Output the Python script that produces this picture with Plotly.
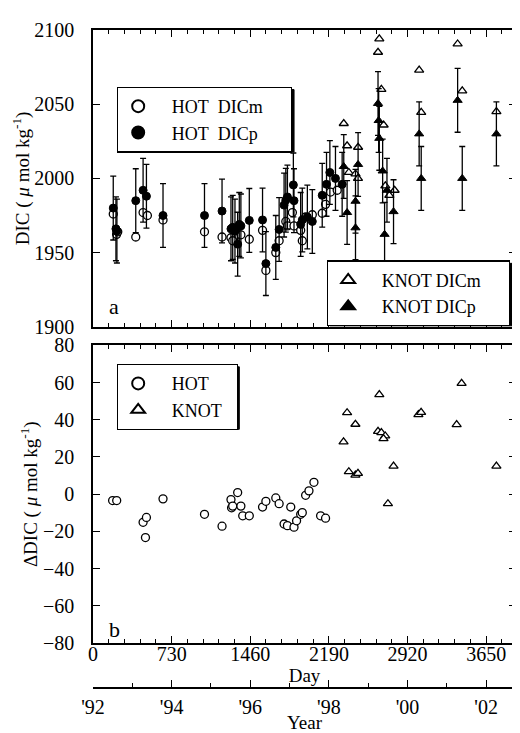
import plotly.graph_objects as go

# ---- panel a: DIC at HOT and KNOT (day since 1 Jan 1992, umol/kg)
hot_m_day = [188, 219, 230, 397, 465, 505, 650, 1035, 1198, 1281, 1297, 1352, 1373,
             1451, 1574, 1605, 1697, 1728, 1790, 1805, 1851, 1866, 1928, 1943, 1974,
             2036, 2128, 2159, 2205, 2267]
hot_m_dic = [1976, 1962.3, 1964, 1960.5, 1977, 1975, 1972, 1964, 1960.5, 1960, 1958,
             1962, 1962, 1959, 1965, 1938, 1950, 1958, 1971, 1968, 1977, 1968, 1965,
             1958, 1974, 1975.5, 1976.5, 1982.5, 1990.8, 1992]
hot_p_day = [188, 213, 222, 397, 465, 496, 650, 1035, 1198, 1281, 1297, 1318, 1343,
             1358, 1373, 1451, 1574, 1605, 1697, 1728, 1774, 1790, 1805, 1860, 1866,
             1928, 1943, 1990, 2036, 2128, 2168, 2199, 2251, 2313]
hot_p_dic = [1980, 1966, 1964.5, 1985, 1992, 1988, 1975, 1975, 1978, 1966, 1967,
             1964.5, 1955.7, 1969, 1968, 1971.7, 1972, 1942.6, 1953.5, 1965.6, 1982,
             1985.3, 1987.5, 1995.6, 1985, 1969, 1972, 1974, 1971, 1988.6, 1996, 2004,
             2000, 1996]
knot_m_day = [2328, 2359, 2461, 2375, 2437, 2460, 2658, 2646, 2677, 2698, 2714, 2751,
              2800, 3028, 3047, 3385, 3428, 3745]
knot_m_dic = [2037, 2022, 2021, 2004, 2003, 2000, 2094, 2085, 2060, 2036, 1995, 1988.6,
              1992, 2073, 2044.5, 2090.6, 2059, 2045]
knot_p_day = [2328, 2359, 2437, 2437, 2461, 2646, 2652, 2658, 2689, 2729, 2707, 2790,
              3028, 3047, 3385, 3428, 3745]
knot_p_dic = [2008, 1977, 1984.6, 1966.7, 2009.4, 2050.5, 2039, 2027, 2005, 1992,
              1962.3, 1977.6, 2030, 2000, 2052.6, 2000, 2030]
dicp_err = 21.5

# ---- panel b: DIC difference
hot_d_day = [182, 220, 465, 487, 496, 650, 1035, 1198, 1281, 1287, 1297, 1343, 1373,
             1390, 1451, 1574, 1605, 1697, 1728, 1774, 1805, 1836, 1866, 1890, 1928,
             1943, 1974, 2005, 2051, 2113, 2159]
hot_d_val = [-3.4, -3.4, -15.1, -23.3, -12.5, -2.5, -10.8, -17.2, -2.9, -7.3, -6.4, 0.9,
             -6.4, -11.6, -11.6, -6.9, -3.8, -2.0, -5.1, -16.0, -16.9, -6.9, -17.7,
             -14.3, -10.8, -9.9, -0.6, 1.8, 6.4, -11.6, -12.9]
knot_d_day = [2326, 2359, 2436, 2375, 2436, 2460, 2658, 2646, 2677, 2713, 2697, 2738,
              2790, 3021, 3046, 3376, 3422, 3745]
knot_d_val = [28.1, 43.8, 37.6, 12.1, 10.3, 11.2, 53.5, 33.8, 33.1, 31.3, 29.9, -5.1,
              15.1, 42.8, 44.0, 37.4, 59.6, 15.1]

day_ticks = [0, 730, 1460, 2190, 2920, 3650]
year_ticks = [92, 94, 96, 98, 100, 102]
year_labels = ["'92", "'94", "'96", "'98", "'00", "'02"]

DAY_MAX = 3927
FONT = "Liberation Serif, Times New Roman, serif"
NB = "\u00a0"

# page geometry (the photographed page is offset and slightly squeezed)
W, H = 512, 725
MT, MB = 22, 19
SY, OY = 0.984, 2.3


def px_x(p):
    # reference pixel column -> paper x (plot area spans 93..518)
    return (p - 93) / 425.0


def px_y(p):
    # reference pixel row -> paper y
    fig_y = (p - OY) / SY
    return (H - MB - fig_y) / (H - MB - MT)


def entry(text, lead, trail):
    # pad legend labels so the framed boxes get the reference width
    return NB * lead + text + NB * trail


fig = go.Figure()

hollow = dict(color="white", size=8, line=dict(color="black", width=1.3))
solid = dict(color="black", size=8, line=dict(color="black", width=1))
ebar = dict(type="constant", value=dicp_err, color="black", thickness=1.3, width=3)

fig.add_trace(go.Scatter(x=hot_m_day, y=hot_m_dic, mode="markers",
                         name=entry("HOT" + NB * 2 + "DICm", 3, 5),
                         marker=dict(symbol="circle", **hollow), legend="legend",
                         xaxis="x", yaxis="y"))
fig.add_trace(go.Scatter(x=hot_p_day, y=hot_p_dic, mode="markers",
                         name=entry("HOT" + NB * 2 + "DICp", 3, 5),
                         marker=dict(symbol="circle", **solid), error_y=ebar,
                         legend="legend", xaxis="x", yaxis="y"))
fig.add_trace(go.Scatter(x=knot_m_day, y=knot_m_dic, mode="markers",
                         name=entry("KNOT DICm", 3, 5),
                         marker=dict(symbol="triangle-up", **hollow), legend="legend2",
                         xaxis="x", yaxis="y"))
fig.add_trace(go.Scatter(x=knot_p_day, y=knot_p_dic, mode="markers",
                         name=entry("KNOT DICp", 3, 5),
                         marker=dict(symbol="triangle-up", **solid), error_y=ebar,
                         legend="legend2", xaxis="x", yaxis="y"))
fig.add_trace(go.Scatter(x=hot_d_day, y=hot_d_val, mode="markers",
                         name=entry("HOT", 3, 2),
                         marker=dict(symbol="circle", **hollow), legend="legend3",
                         xaxis="x2", yaxis="y2"))
fig.add_trace(go.Scatter(x=knot_d_day, y=knot_d_val, mode="markers",
                         name=entry("KNOT", 3, 2),
                         marker=dict(symbol="triangle-up", **hollow), legend="legend3",
                         xaxis="x2", yaxis="y2"))
# invisible point so the year axis exists
fig.add_trace(go.Scatter(x=[92], y=[0], mode="markers", marker=dict(opacity=0),
                         showlegend=False, hoverinfo="skip", xaxis="x3", yaxis="y3"))

ax_common = dict(showline=True, linecolor="black", linewidth=1.5, ticks="inside",
                 tickcolor="black", tickwidth=1.2, showgrid=False, zeroline=False,
                 tickfont=dict(family=FONT, size=20, color="black"))
day_axis = dict(range=[0, DAY_MAX], tickvals=day_ticks, ticklen=7, mirror="ticks",
                minor=dict(dtick=146, tick0=0, ticks="inside", ticklen=4,
                           tickcolor="black", tickwidth=1.2),
                **ax_common)

legend_style = dict(bgcolor="white", bordercolor="black", borderwidth=1.3,
                    font=dict(family=FONT, size=18, color="black"),
                    xanchor="left", yanchor="top", itemsizing="constant",
                    tracegroupgap=0)

# drop shadows under the three legend boxes (reference pixels, 3 px offset)
shadow_boxes = [(120, 85, 295, 149), (331, 263, 514, 327), (120, 369, 240, 433)]
shapes = [dict(type="rect", xref="paper", yref="paper", layer="above",
               x0=px_x(x0), x1=px_x(x1), y0=px_y(y1), y1=px_y(y0),
               fillcolor="black", line=dict(color="black", width=1))
          for x0, y0, x1, y1 in shadow_boxes]

fig.update_layout(
    width=W, height=H,
    margin=dict(l=85, r=2, t=MT, b=MB),
    plot_bgcolor="white", paper_bgcolor="white",
    font=dict(family=FONT, size=19, color="black"),
    xaxis=dict(anchor="y", showticklabels=False, **day_axis),
    yaxis=dict(domain=[px_y(328), 1.0], anchor="x", range=[1900, 2100], dtick=50,
               ticklen=7, mirror="ticks", ticklabelstandoff=13,
               title=dict(text="DIC ( <i>\u03bc</i> mol kg<sup>-1</sup>)", standoff=0,
                          font=dict(family=FONT, size=19)),
               **ax_common),
    xaxis2=dict(anchor="y2", title=dict(text="Day", standoff=0,
                                        font=dict(family=FONT, size=19)),
                ticklabelstandoff=-8, **day_axis),
    yaxis2=dict(domain=[px_y(652), px_y(347)], anchor="x2", range=[-80, 80], dtick=20,
                ticklen=7, mirror="ticks", ticklabelstandoff=13,
                title=dict(text="\u0394DIC ( <i>\u03bc</i> mol kg<sup>-1</sup>)",
                           standoff=0, font=dict(family=FONT, size=19)),
                **ax_common),
    xaxis3=dict(anchor="y3", range=[92, 92 + DAY_MAX / 365.0], tickvals=year_ticks,
                ticktext=year_labels, ticklen=7, ticklabelstandoff=1,
                minor=dict(dtick=1, tick0=92, ticks="inside", ticklen=4,
                           tickcolor="black", tickwidth=1.2),
                title=dict(text="Year", standoff=0, font=dict(family=FONT, size=19)),
                **ax_common),
    yaxis3=dict(domain=[0, 0.001], anchor="x3", range=[0, 1], visible=False),
    legend=dict(x=px_x(117), y=px_y(82), **legend_style),
    legend2=dict(x=px_x(328), y=px_y(260), **legend_style),
    legend3=dict(x=px_x(117), y=px_y(366), **legend_style),
    shapes=shapes,
    annotations=[
        dict(text="a", xref="x", yref="y", x=130, y=1904, showarrow=False,
             font=dict(family=FONT, size=22), xanchor="left", yanchor="bottom"),
        dict(text="b", xref="x2", yref="y2", x=130, y=-78, yshift=-5, showarrow=False,
             font=dict(family=FONT, size=22), xanchor="left", yanchor="bottom"),
    ],
)

fig.write_html("out.html")
